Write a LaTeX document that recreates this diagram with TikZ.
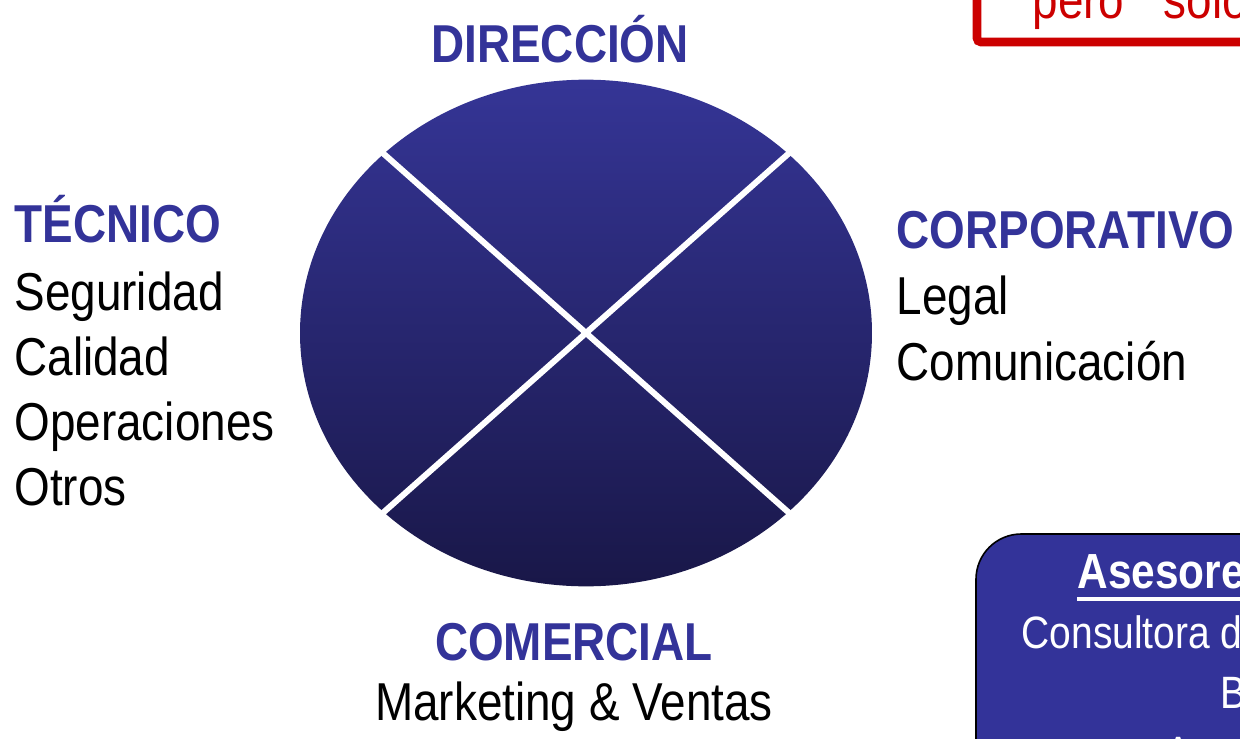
\documentclass[tikz,border=0pt]{standalone}
\usepackage{fontspec}
\setmainfont{Liberation Sans}[FakeStretch=0.86]
\usetikzlibrary{shapes.geometric}

\definecolor{azulTitulo}{RGB}{51,51,153}
\definecolor{azulClaro}{RGB}{53,53,150}
\definecolor{azulOscuro}{RGB}{25,23,72}
\definecolor{rojoMarco}{RGB}{204,0,0}

\tikzset{every picture/.style={line width=0.75pt}}
\tikzset{
  rueda/.style={ellipse, draw=none, inner sep=0pt, outer sep=0pt,
    minimum width=429pt, minimum height=380pt,
    top color=azulClaro, bottom color=azulOscuro},
  corte/.style={draw=white, line width=4.5pt, shorten <=-4pt, shorten >=-4pt},
  titulo/.style={anchor=base west, inner sep=0pt, color=azulTitulo,
    font=\fontsize{40}{48}\selectfont\bfseries},
  area/.style={anchor=base west, inner sep=0pt, color=black,
    font=\fontsize{40}{48}\selectfont},
  caja/.style={draw=black, line width=1.2pt, fill=azulTitulo, rounded corners=34pt},
  marco/.style={draw=rojoMarco, line width=6.5pt, rounded corners=3pt}
}

\begin{document}
\begin{tikzpicture}[x=0.75pt,y=0.75pt,yscale=-1,xscale=1]
	\path [use as bounding box] (0,0) rectangle (1240,739);
	\clip (0,0) rectangle (1240,739);

	%Shape: Ellipse
	\node [rueda] (rueda) at (586,333) {};
	%Straight Lines
	\draw [corte] (rueda.north west) -- (rueda.south east) ;
	\draw [corte] (rueda.north east) -- (rueda.south west) ;

	% Text Node
	\draw (560,62) node [titulo, anchor=base] (direccion) {DIRECCIÓN};
	% Text Node
	\draw (14,242) node [titulo] (tecnico) {TÉCNICO};
	\draw (14,310) node [area] (seguridad) {Seguridad};
	\draw (14,375) node [area] (calidad) {Calidad};
	\draw (14,440) node [area] (operaciones) {Operaciones};
	\draw (14,505) node [area] (otros) {Otros};
	% Text Node
	\draw (896,248) node [titulo] (corporativo) {CORPORATIVO};
	\draw (896,314) node [area] (legal) {Legal};
	\draw (896,380) node [area] (comunicacion) {Comunicación};
	% Text Node
	\draw (574,660) node [titulo, anchor=base] (comercial) {COMERCIAL};
	\draw (574,720) node [area, anchor=base] (ventas) {Marketing \& Ventas};

	%Shape: Rectangle
	\draw [marco] (977,-40) rectangle (1280,42) ;
	% Text Node
	\draw (1032,18) node [area, color=rojoMarco] (pero) {pero\hspace{0.5em} solo};

	%Shape: Rounded Rectangle
	\draw [caja] (976,534) rectangle (1300,800) ;
	% Text Node
	\draw (1077,588) node [titulo, color=white, font=\fontsize{37}{44}\selectfont\bfseries] (asesores) {Asesores};
	\draw [white, line width=3pt] ([yshift=8pt]asesores.base west) -- ([yshift=8pt]asesores.base east) ;
	\draw (1021,648) node [area, color=white, font=\fontsize{34}{41}\selectfont] (consultora) {Consultora de};
	\draw (1220,708) node [area, color=white, font=\fontsize{34}{41}\selectfont] (linea3) {B};
	\draw (1165,768) node [area, color=white, font=\fontsize{34}{41}\selectfont] (linea4) {A};

\end{tikzpicture}
\end{document}
